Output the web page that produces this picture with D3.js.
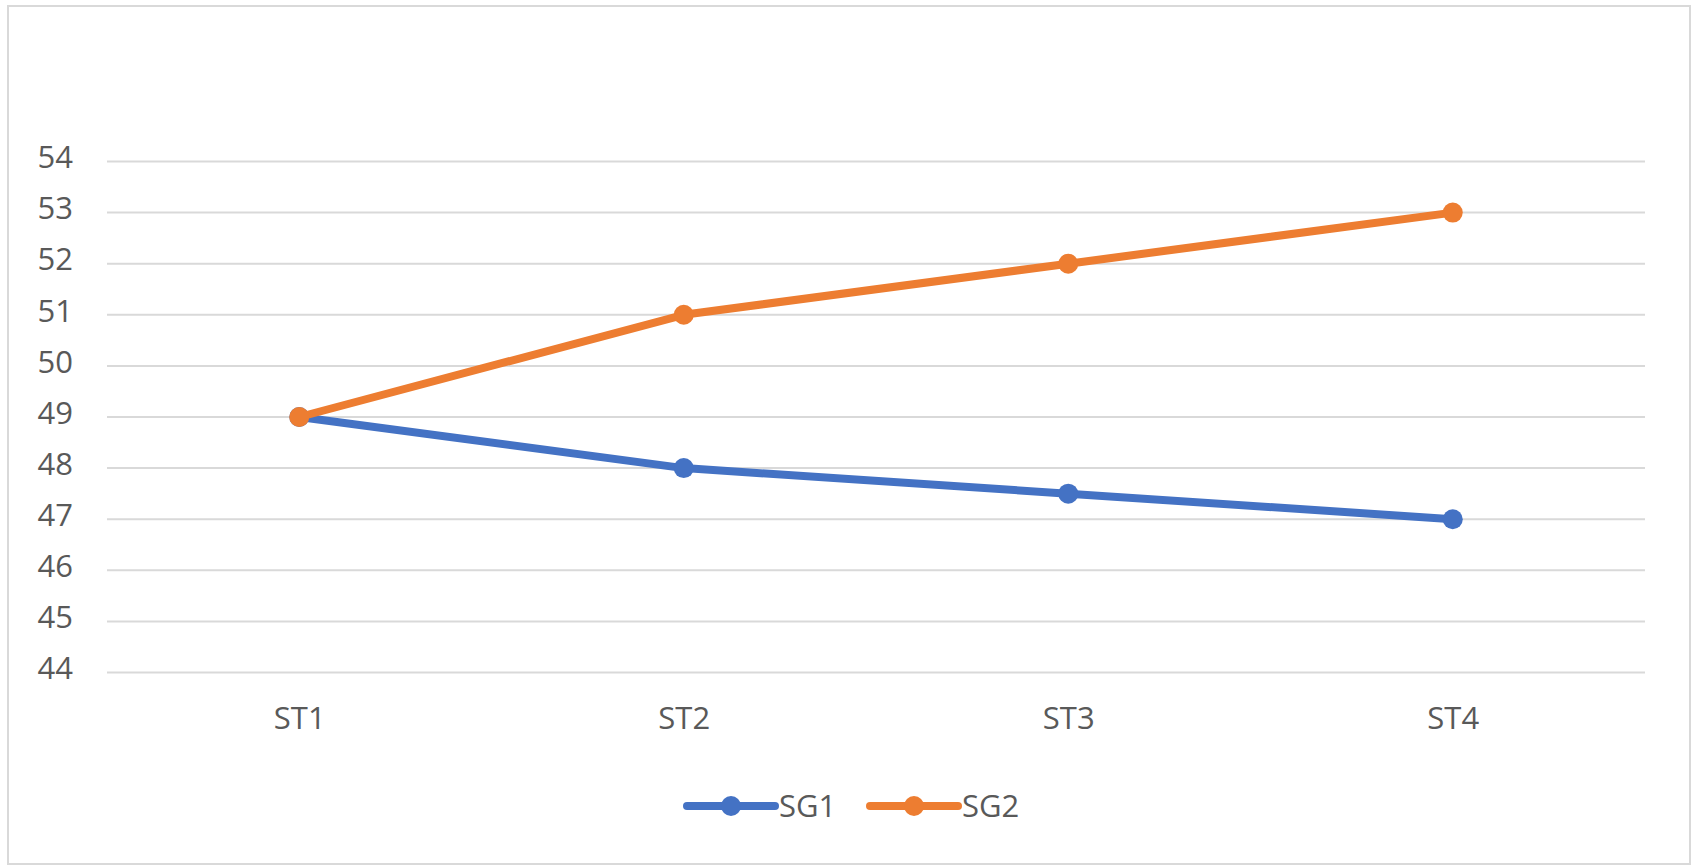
<!DOCTYPE html>
<html>
<head>
<meta charset="utf-8">
<script src="https://cdn.jsdelivr.net/npm/d3@7/dist/d3.min.js"></script>
<style>
  html, body { margin: 0; padding: 0; background: #fff; }
  svg { display: block; }
  text { font-family: "Open Sans", Lato, sans-serif; fill: #595959; }
</style>
</head>
<body>
<svg id="chart" width="1694" height="866"></svg>
<script>
// Categories and series values
const categories = ["ST1", "ST2", "ST3", "ST4"];
const sg1 = [49, 48, 47.5, 47];
const sg2 = [49, 51, 52, 53];
const seriesNames = ["SG1", "SG2"];
const seriesColors = ["#4472C4", "#ED7D31"];
const yTicks = [44, 45, 46, 47, 48, 49, 50, 51, 52, 53, 54];

const W = 1694, H = 866;
const plot = { left: 107, right: 1645, top: 161.5, bottom: 672.5 };
const fontSize = 31;

const svg = d3.select("#chart");

// chart frame
svg.append("rect")
  .attr("x", 8).attr("y", 6)
  .attr("width", W - 12).attr("height", H - 8)
  .attr("fill", "#fff")
  .attr("stroke", "#D9D9D9")
  .attr("stroke-width", 2);

const x = d3.scalePoint()
  .domain(categories)
  .range([plot.left, plot.right])
  .padding(0.5);

const y = d3.scaleLinear()
  .domain([44, 54])
  .range([plot.bottom, plot.top]);

// horizontal gridlines
svg.append("g")
  .selectAll("line")
  .data(yTicks)
  .join("line")
  .attr("x1", plot.left).attr("x2", plot.right)
  .attr("y1", d => y(d)).attr("y2", d => y(d))
  .attr("stroke", "#D9D9D9")
  .attr("stroke-width", 2);

// y axis labels
const yAxis = d3.axisLeft(y).tickValues(yTicks).tickSize(0).tickPadding(0);
const yg = svg.append("g")
  .attr("transform", `translate(${plot.left - 34},0)`)
  .call(yAxis);
yg.select(".domain").remove();
yg.selectAll("text")
  .attr("font-size", fontSize)
  .attr("dy", "0.2em")
  .attr("fill", "#595959")
  .style("font-family", "'Open Sans', Lato, sans-serif");

// x axis labels
const xAxis = d3.axisBottom(x).tickSize(0).tickPadding(0);
const xg = svg.append("g")
  .attr("transform", `translate(0,${plot.bottom + 34})`)
  .call(xAxis);
xg.select(".domain").remove();
xg.selectAll("text")
  .attr("font-size", fontSize)
  .attr("dy", "0.72em")
  .attr("fill", "#595959")
  .style("font-family", "'Open Sans', Lato, sans-serif");

// series lines and markers
const seriesData = [sg1, sg2];
const line = d3.line()
  .x((d, i) => x(categories[i]))
  .y(d => y(d));

seriesData.forEach((vals, s) => {
  const g = svg.append("g");
  g.append("path")
    .datum(vals)
    .attr("d", line)
    .attr("fill", "none")
    .attr("stroke", seriesColors[s])
    .attr("stroke-width", 8)
    .attr("stroke-linejoin", "round")
    .attr("stroke-linecap", "round");
  g.selectAll("circle")
    .data(vals)
    .join("circle")
    .attr("cx", (d, i) => x(categories[i]))
    .attr("cy", d => y(d))
    .attr("r", 10)
    .attr("fill", seriesColors[s]);
});

// legend
const legendY = 806;
const legendItems = [
  { x0: 687, name: seriesNames[0], color: seriesColors[0] },
  { x0: 870, name: seriesNames[1], color: seriesColors[1] }
];
const lg = svg.append("g");
legendItems.forEach(item => {
  lg.append("line")
    .attr("x1", item.x0).attr("x2", item.x0 + 88)
    .attr("y1", legendY).attr("y2", legendY)
    .attr("stroke", item.color)
    .attr("stroke-width", 8)
    .attr("stroke-linecap", "round");
  lg.append("circle")
    .attr("cx", item.x0 + 44).attr("cy", legendY)
    .attr("r", 10)
    .attr("fill", item.color);
  lg.append("text")
    .attr("x", item.x0 + 92)
    .attr("y", legendY)
    .attr("dy", "0.36em")
    .attr("font-size", fontSize)
    .text(item.name);
});
</script>
</body>
</html>
